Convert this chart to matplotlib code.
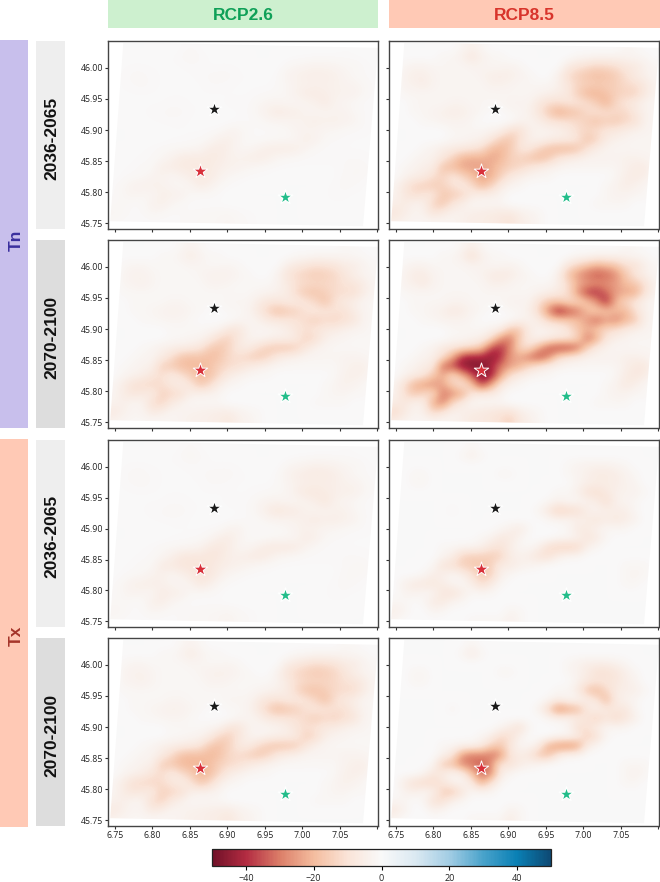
import numpy as np
import matplotlib
matplotlib.use("Agg")
import matplotlib.pyplot as plt
from matplotlib.colors import LinearSegmentedColormap, Normalize
from matplotlib.patches import Rectangle, Polygon
from matplotlib.cm import ScalarMappable

# ---------- data ----------
columns = ["RCP2.6", "RCP8.5"]
periods = ["2036-2065", "2070-2100"]
variables = ["Tn", "Tx"]

# magnitude of the cooling pattern (deg) on a regular lon/lat grid, north to south
broad_pattern = [
 [0,0,0,0,0,0,0,1,3,1,0,0,0,0,0,0,0,0,0,0,0,0,0,0,1,1,0,0],
 [0,0,0,0,0,1,1,3,8,3,1,1,0,0,0,0,0,0,0,1,1,2,2,2,2,1,1,0],
 [0,1,2,2,1,1,1,1,2,2,1,1,2,1,0,0,0,0,6,10,14,18,16,14,8,8,3,1],
 [0,2,4,4,2,1,1,1,1,2,4,5,4,2,1,0,0,3,14,22,28,32,30,24,14,6,3,1],
 [0,2,3,5,2,1,1,1,1,1,3,3,2,1,1,1,1,3,9,18,22,24,24,22,16,14,8,2],
 [0,1,1,1,1,1,1,1,1,1,1,1,1,1,1,2,3,5,8,22,36,38,30,22,20,20,8,2],
 [0,0,1,1,1,1,2,2,1,1,1,1,2,2,2,8,14,14,10,10,14,24,40,18,10,6,2,1],
 [0,0,1,1,2,3,5,4,2,1,0,0,1,1,3,10,25,42,34,28,16,12,14,16,18,8,3,1],
 [0,0,0,1,1,2,2,2,1,0,0,0,0,2,2,4,10,12,14,16,22,30,22,26,18,14,3,1],
 [0,0,0,0,0,0,1,1,1,1,2,3,14,14,4,2,2,3,6,14,18,14,10,8,5,3,2,1],
 [0,0,0,0,0,0,1,1,2,3,8,24,28,12,4,2,4,6,6,10,28,20,6,3,2,1,1,1],
 [0,0,0,1,2,5,6,8,10,14,34,38,26,10,8,20,32,36,36,30,12,4,2,1,1,1,1,1],
 [0,0,1,2,3,8,20,38,42,40,44,38,22,20,28,34,26,10,6,4,2,2,2,2,3,3,2,1],
 [0,1,2,4,5,30,34,44,46,46,40,28,22,18,10,6,3,2,1,1,1,1,1,1,3,5,6,1],
 [0,2,4,6,14,20,8,18,32,46,42,22,8,4,2,1,1,0,0,0,0,0,0,1,4,6,4,1],
 [2,8,18,22,24,20,12,6,14,36,22,6,2,1,0,0,0,0,0,0,0,0,1,2,5,3,1,0],
 [2,8,14,10,8,28,24,20,6,4,4,2,0,0,0,0,0,0,0,0,0,0,1,2,2,1,1,0],
 [4,6,2,3,20,26,10,4,1,1,1,1,0,0,0,0,0,0,0,0,0,1,1,1,1,0,0,0],
 [10,5,2,3,10,6,2,3,4,5,6,7,8,4,2,1,0,0,0,0,0,0,0,0,0,0,0,0],
 [3,2,1,1,1,1,2,3,5,5,6,8,12,5,3,1,0,0,0,0,0,0,0,0,0,0,0,0],
]
narrow_pattern = [
 [0,0,0,0,0,0,0,0,1,0,0,0,0,0,0,0,0,0,0,0,0,0,0,0,0,0,0,0],
 [0,0,0,0,0,0,0,1,4,1,0,0,0,0,0,0,0,0,0,0,0,0,0,0,0,0,0,0],
 [0,0,0,0,0,0,0,0,0,0,0,0,0,0,0,0,0,0,1,2,3,3,3,2,1,0,0,0],
 [0,0,1,1,0,0,0,0,0,0,0,1,1,0,0,0,0,0,1,2,4,8,8,6,3,1,0,0],
 [0,0,1,1,0,0,0,0,0,0,0,0,0,0,0,0,0,0,0,2,5,6,6,6,3,2,0,0],
 [0,0,0,0,0,0,0,0,0,0,0,0,0,0,0,0,0,1,1,4,14,18,10,4,3,3,1,0],
 [0,0,0,0,0,0,0,0,0,0,0,0,0,0,0,0,1,3,1,1,3,6,18,4,2,1,0,0],
 [0,0,0,0,0,0,1,0,0,0,0,0,0,0,0,2,10,28,22,18,6,2,5,5,6,1,0,0],
 [0,0,0,0,0,0,0,0,0,0,0,0,0,0,0,0,1,2,2,4,6,12,6,10,6,3,0,0],
 [0,0,0,0,0,0,0,0,0,0,0,1,4,8,1,0,0,0,1,8,8,3,1,1,1,0,0,0],
 [0,0,0,0,0,0,0,0,0,1,3,10,8,2,0,0,0,1,1,3,12,8,1,0,0,0,0,0],
 [0,0,0,0,0,1,1,2,2,4,12,14,6,1,1,4,20,26,28,24,4,1,0,0,0,0,0,0],
 [0,0,0,0,0,2,6,24,30,28,30,26,6,4,6,14,16,4,1,1,0,0,0,0,0,0,0,0],
 [0,0,0,0,1,14,16,28,30,34,26,6,8,4,2,1,0,0,0,0,0,0,0,0,1,1,1,0],
 [0,0,0,1,6,4,1,3,16,32,28,4,1,0,0,0,0,0,0,0,0,0,0,0,1,2,1,0],
 [0,4,8,10,10,6,2,1,4,20,8,1,0,0,0,0,0,0,0,0,0,0,0,0,1,1,0,0],
 [0,2,3,1,2,12,14,6,1,1,1,0,0,0,0,0,0,0,0,0,0,0,0,0,0,0,0,0],
 [1,1,0,1,8,8,2,1,0,0,0,0,0,0,0,0,0,0,0,0,0,0,0,0,0,0,0,0],
 [5,2,0,0,2,1,0,0,0,0,0,0,2,1,0,0,0,0,0,0,0,0,0,0,0,0,0,0],
 [1,0,0,0,0,0,0,0,1,1,1,1,4,1,0,0,0,0,0,0,0,0,0,0,0,0,0,0],
]
# which pattern, its strongest value and its spread in each panel [row][column]
panel_patterns = [["broad", "broad"], ["broad", "broad"], ["broad", "narrow"], ["broad", "narrow"]]
panel_peak = [[7, 24], [20, 47], [9, 17], [21, 34]]
panel_spread = [[0.8, 0.65], [0.7, 0.85], [0.85, 0.65], [0.7, 0.8]]

# map footprint corners (lon, lat): NW, NE, SE, SW
footprint_lon = [6.7615, 7.101, 7.081, 6.744]
footprint_lat = [46.041, 46.032, 45.7455, 45.7535]

station_lon = [6.882, 6.864, 6.977]
station_lat = [45.933, 45.834, 45.793]
station_colors = ["#1a1a1a", "#d8303a", "#22bd8a"]

lon_ticks = [6.75, 6.80, 6.85, 6.90, 6.95, 7.00, 7.05, 7.10]
lon_labels = ["6.75", "6.80", "6.85", "6.90", "6.95", "7.00", "7.05", ""]
lat_ticks = [45.75, 45.80, 45.85, 45.90, 45.95, 46.00]
lat_labels = ["45.75", "45.80", "45.85", "45.90", "45.95", "46.00"]
cbar_ticks = [-40, -20, 0, 20, 40]

cmap_positions = [0, .1, .2, .3, .4, .5, .6, .7, .8, .9, 1]
cmap_colors = ["#701128", "#b32c42", "#dc7f69", "#f4bd9f", "#fae4d8", "#f9f9f9",
               "#dbe9f2", "#a3cde4", "#4aa3cb", "#0a80b5", "#0d4a74"]

# ---------- figure ----------
W, H = 660, 882
plt.rcParams["font.family"] = ["Open Sans", "DejaVu Sans"]
fig = plt.figure(figsize=(W / 100, H / 100), dpi=100)
cmap = LinearSegmentedColormap.from_list("rb", list(zip(cmap_positions, cmap_colors)))
norm = Normalize(-50, 50)


def px_box(x0, y0, x1, y1):
    return [x0 / W, 1 - y1 / H, (x1 - x0) / W, (y1 - y0) / H]


def band(x0, y0, x1, y1, color, text, tcolor, rot=0, size=12.5, dx=0, dy=0):
    fig.add_artist(Rectangle((x0 / W, 1 - y1 / H), (x1 - x0) / W, (y1 - y0) / H,
                             transform=fig.transFigure, fc=color, ec="none"))
    fig.text(((x0 + x1) / 2 + dx) / W, 1 - ((y0 + y1) / 2 + dy) / H, text, color=tcolor,
             rotation=rot, ha="center", va="center", fontsize=size, fontweight="bold",
             family="Liberation Sans")


band(108, 0, 378, 28, "#cdf0cf", columns[0], "#0fa058", dy=1)
band(389, 0, 660, 28, "#ffc9b5", columns[1], "#d8342b", dy=1)
band(0, 40, 28, 428, "#c8bfec", variables[0], "#3a2f9e", rot=90, size=12.5, dx=2, dy=6)
band(0, 439, 28, 827, "#ffc9b5", variables[1], "#a5352a", rot=90, size=12.5, dx=2, dy=3)

row_y = [(41, 229), (240, 428), (440, 627), (638, 826)]
col_x = [(108, 378), (389, 659)]
period_fill = ["#eeeeee", "#dddddd"]
for r, (y0, y1) in enumerate(row_y):
    band(36, y0, 65, y1, period_fill[r % 2], periods[r % 2], "#111111", rot=90, size=12.5,
         dx=1, dy=3)

patterns = {"broad": np.array(broad_pattern, float), "narrow": np.array(narrow_pattern, float)}
extent = [6.7424, 7.1, 45.745, 46.040]
for r, (y0, y1) in enumerate(row_y):
    for c, (x0, x1) in enumerate(col_x):
        ax = fig.add_axes(px_box(x0, y0, x1, y1))
        base = patterns[panel_patterns[r][c]]
        field = -panel_peak[r][c] * (base / base.max()) ** panel_spread[r][c]
        im = ax.imshow(field, extent=extent, origin="upper", cmap=cmap, norm=norm,
                       interpolation="bicubic", aspect="auto", zorder=1)
        poly = Polygon(np.column_stack([footprint_lon, footprint_lat]),
                       transform=ax.transData, fc="none", ec="none")
        im.set_clip_path(poly)
        ax.set_xlim(6.741, 7.101)
        ax.set_ylim(45.741, 46.043)
        for lon, lat, col in zip(station_lon, station_lat, station_colors):
            ax.scatter(lon, lat, marker="*", s=120, c=col, edgecolors="white",
                       linewidths=(0.9 if col != "#d8303a" else 0.7), zorder=3)
        ax.set_xticks(lon_ticks)
        ax.set_yticks(lat_ticks)
        ax.set_xticklabels(lon_labels if r == 3 else [""] * len(lon_ticks))
        ax.set_yticklabels(lat_labels if c == 0 else [""] * len(lat_ticks))
        ax.tick_params(length=2, width=0.8, pad=1.5, labelsize=6.3, color="#333333",
                       labelcolor="#222222")
        for s in ax.spines.values():
            s.set_linewidth(1.0)
            s.set_color("#444444")

cax = fig.add_axes(px_box(212, 849, 551, 866))
cb = fig.colorbar(ScalarMappable(norm=norm, cmap=cmap), cax=cax, orientation="horizontal",
                  ticks=cbar_ticks)
cb.ax.tick_params(length=3, width=0.8, pad=3, labelsize=6.5, labelcolor="#222222")
cb.outline.set_linewidth(0.9)
cb.outline.set_edgecolor("#222222")

fig.savefig("out.png", dpi=100)
